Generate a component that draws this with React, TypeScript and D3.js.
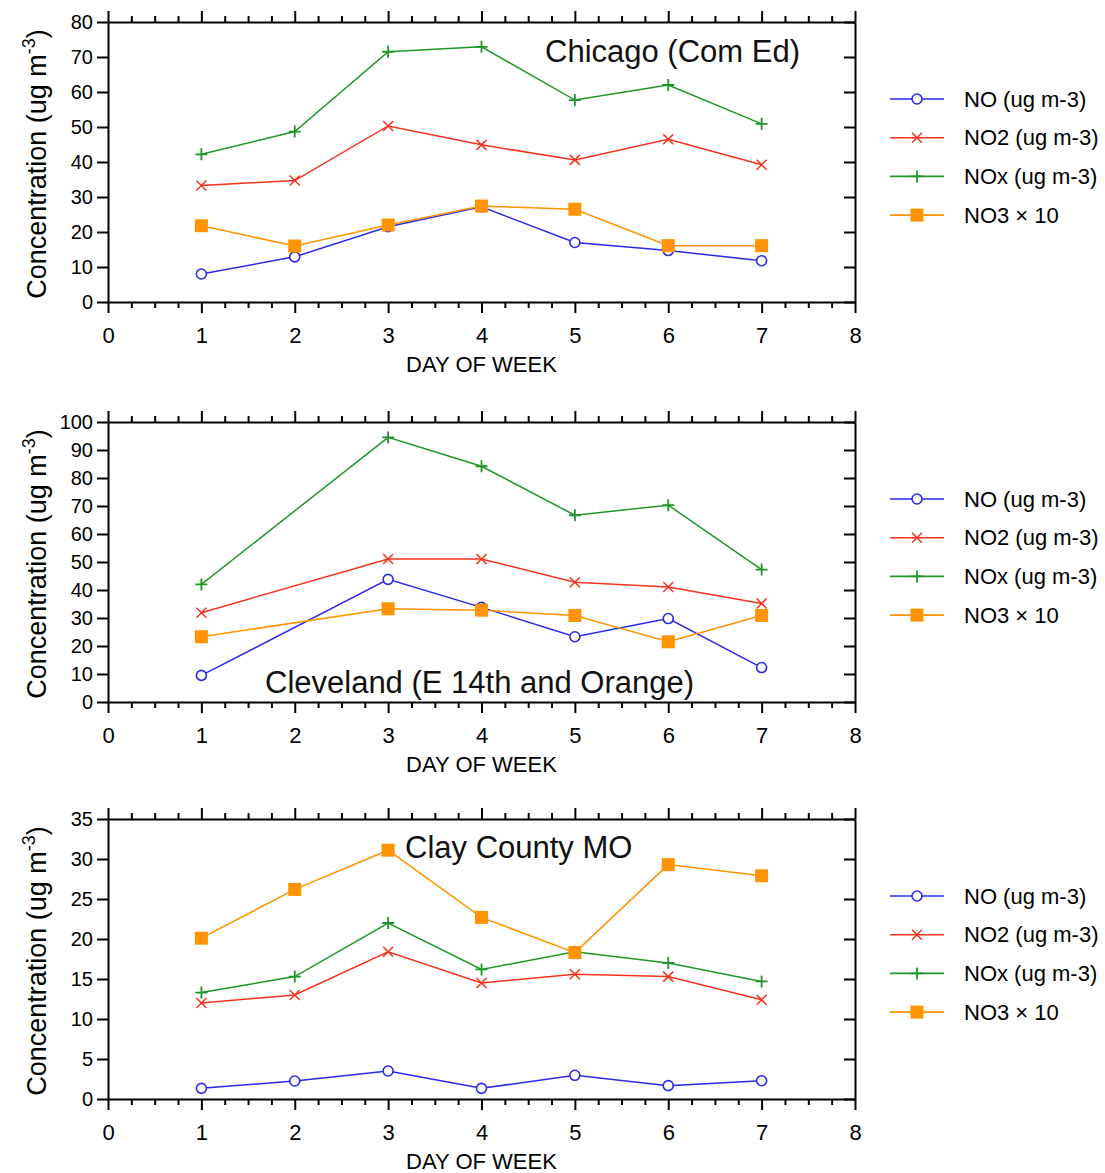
import * as d3 from "d3";
import { useEffect, useRef } from "react";

// day of week on the x axis
const days = [1, 2, 3, 4, 5, 6, 7];
const seriesNames = ["NO (ug m-3)", "NO2 (ug m-3)", "NOx (ug m-3)", "NO3 x 10"];

// Chicago (Com Ed)
const chicagoNO = [8, 12.9, 21.5, 27.2, 17, 14.7, 11.8];
const chicagoNO2 = [33.3, 34.7, 50.3, 44.9, 40.6, 46.5, 39.2];
const chicagoNOx = [42.2, 48.7, 71.5, 72.9, 57.7, 62, 50.9];
const chicagoNO3 = [21.8, 16, 22, 27.4, 26.5, 16.1, 16.1];

// Cleveland (E 14th and Orange) - no data for day 2
const clevelandNO = [9.5, null, 43.8, 33.8, 23.3, 29.8, 12.3];
const clevelandNO2 = [31.9, null, 51.1, 51.1, 42.8, 41.1, 35.2];
const clevelandNOx = [42, null, 94.5, 84.2, 66.7, 70.3, 47.3];
const clevelandNO3 = [23.3, null, 33.3, 32.8, 30.9, 21.5, 30.9];

// Clay County MO
const clayNO = [1.33, 2.25, 3.5, 1.33, 2.96, 1.67, 2.29];
const clayNO2 = [12, 13, 18.4, 14.5, 15.6, 15.3, 12.4];
const clayNOx = [13.3, 15.3, 22, 16.2, 18.4, 17, 14.7];
const clayNO3 = [20.1, 26.2, 31.1, 22.7, 18.3, 29.3, 27.9];

const xTicks = [0, 1, 2, 3, 4, 5, 6, 7, 8];
const chicagoYTicks = [0, 10, 20, 30, 40, 50, 60, 70, 80];
const clevelandYTicks = [0, 10, 20, 30, 40, 50, 60, 70, 80, 90, 100];
const clayYTicks = [0, 5, 10, 15, 20, 25, 30, 35];

const colors = ["#2a2ae8", "#f5321e", "#20952a", "#ff9300"];
const markers = ["circle", "cross", "plus", "square"];
const FONT = "'Liberation Sans', Arial, sans-serif";

const panels = [
  { title: "Chicago (Com Ed)", top: 22, yMax: 80, yTicks: chicagoYTicks, values: [chicagoNO, chicagoNO2, chicagoNOx, chicagoNO3], titleX: 545, titleDy: 40 },
  { title: "Cleveland (E 14th and Orange)", top: 422, yMax: 100, yTicks: clevelandYTicks, values: [clevelandNO, clevelandNO2, clevelandNOx, clevelandNO3], titleX: 265, titleDy: 271 },
  { title: "Clay County MO", top: 819, yMax: 35, yTicks: clayYTicks, values: [clayNO, clayNO2, clayNOx, clayNO3], titleX: 405, titleDy: 39 },
];

const drawMarker = (g, kind, cx, cy, color) => {
  if (kind === "circle") {
    g.append("circle").attr("cx", cx).attr("cy", cy).attr("r", 5)
      .attr("fill", "white").attr("stroke", color).attr("stroke-width", 1.6);
  } else if (kind === "square") {
    g.append("rect").attr("x", cx - 6.5).attr("y", cy - 6.5).attr("width", 13).attr("height", 13)
      .attr("fill", color);
  } else if (kind === "cross") {
    const s = 5;
    g.append("path").attr("d", `M${cx - s},${cy - s}L${cx + s},${cy + s}M${cx - s},${cy + s}L${cx + s},${cy - s}`)
      .attr("stroke", color).attr("stroke-width", 1.5);
  } else {
    const s = 6;
    g.append("path").attr("d", `M${cx - s},${cy}L${cx + s},${cy}M${cx},${cy - s}L${cx},${cy + s}`)
      .attr("stroke", color).attr("stroke-width", 1.8);
  }
};

const App = () => {
  const ref = useRef(null);
  const left = 108;
  const right = 855;
  const plotH = 280;

  useEffect(() => {
    const svg = d3.select(ref.current);
    svg.selectAll("*").remove();

    const x = d3.scaleLinear().domain([0, 8]).range([left, right]);
    const minorX = d3.range(0, 8.001, 0.25).filter((v) => v % 1 !== 0);

    panels.forEach((p) => {
      const y = d3.scaleLinear().domain([0, p.yMax]).range([p.top + plotH, p.top]);
      const g = svg.append("g");

      const styleAxis = (sel) => {
        sel.selectAll("path, line").attr("stroke", "#000").attr("stroke-width", 2);
        sel.selectAll("text").attr("fill", "#000").style("font-family", FONT);
      };

      // bottom axis
      g.append("g").attr("transform", `translate(0,${p.top + plotH})`)
        .call(d3.axisBottom(x).tickValues(xTicks).tickSize(11).tickSizeOuter(0).tickPadding(14).tickFormat(d3.format("d")))
        .call(styleAxis).style("font-size", "22px");
      g.append("g").attr("transform", `translate(0,${p.top + plotH})`)
        .call(d3.axisBottom(x).tickValues(minorX).tickSize(6).tickFormat(() => ""))
        .call(styleAxis).select(".domain").remove();

      // top axis
      g.append("g").attr("transform", `translate(0,${p.top})`)
        .call(d3.axisTop(x).tickValues(xTicks).tickSize(11).tickSizeOuter(0).tickFormat(() => ""))
        .call(styleAxis);
      g.append("g").attr("transform", `translate(0,${p.top})`)
        .call(d3.axisTop(x).tickValues(minorX).tickSize(6).tickFormat(() => ""))
        .call(styleAxis).select(".domain").remove();

      // left axis
      g.append("g").attr("transform", `translate(${left},0)`)
        .call(d3.axisLeft(y).tickValues(p.yTicks).tickSize(11).tickSizeOuter(0).tickPadding(4).tickFormat(d3.format("d")))
        .call(styleAxis).style("font-size", "20px");

      // right axis, ticks inward
      g.append("g").attr("transform", `translate(${right},0)`)
        .call(d3.axisRight(y).tickValues(p.yTicks).tickSize(-11).tickSizeOuter(0).tickFormat(() => ""))
        .call(styleAxis);

      // series
      p.values.forEach((vals, si) => {
        const pts = days.map((d, i) => [d, vals[i]]).filter((pt) => pt[1] != null);
        const line = d3.line().x((d) => x(d[0])).y((d) => y(d[1]));
        g.append("path").attr("d", line(pts)).attr("fill", "none")
          .attr("stroke", colors[si]).attr("stroke-width", 1.5);
      });
      p.values.forEach((vals, si) => {
        days.forEach((d, i) => {
          if (vals[i] == null) return;
          drawMarker(g, markers[si], x(d), y(vals[i]), colors[si]);
        });
      });

      // title inside the plot
      g.append("text").attr("x", p.titleX).attr("y", p.top + p.titleDy)
        .style("font-family", FONT).style("font-size", "31px").attr("fill", "#111")
        .text(p.title);

      // x axis title
      g.append("text").attr("x", (left + right) / 2).attr("y", p.top + plotH + 70)
        .attr("text-anchor", "middle").style("font-family", FONT).style("font-size", "22px")
        .text("DAY OF WEEK");

      // y axis title
      const yt = g.append("text").attr("transform", `translate(46,${p.top + 142}) rotate(-90)`)
        .attr("text-anchor", "middle").style("font-family", FONT).style("font-size", "27px");
      yt.append("tspan").text("Concentration (ug m");
      yt.append("tspan").attr("dy", -11).style("font-size", "18px").text("-3");
      yt.append("tspan").attr("dy", 11).text(")");

      // legend
      seriesNames.forEach((name, si) => {
        const ly = p.top + 77 + si * 38.7;
        g.append("line").attr("x1", 890).attr("x2", 944).attr("y1", ly).attr("y2", ly)
          .attr("stroke", colors[si]).attr("stroke-width", 1.6);
        drawMarker(g, markers[si], 917, ly, colors[si]);
        g.append("text").attr("x", 964).attr("y", ly).attr("dy", "0.35em")
          .style("font-family", FONT).style("font-size", "22px")
          .text(name.replace(" x ", " \u00d7 "));
      });
    });
  }, []);

  return (
    <svg ref={ref} width={1105} height={1173}
      style={{ position: "absolute", left: 0, top: 0, background: "white" }} />
  );
};

export default App;
